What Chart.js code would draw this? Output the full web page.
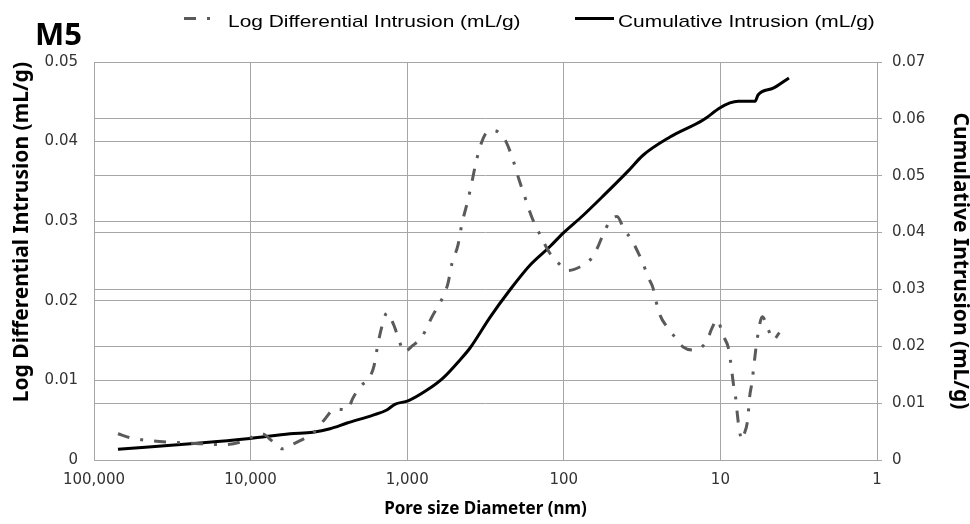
<!DOCTYPE html>
<html>
<head>
  <title>M5 - Pore size distribution</title>
  <script src="https://cdn.jsdelivr.net/npm/chart.js"></script>
  <style>
    body {
      margin: 0;
      background: #ffffff;
    }

    .chart-box {
      width: 970px;
      height: 524px;
      position: relative;
    }
  </style>
</head>
<body>

  <div class="chart-box">
    <canvas id="poreChart"></canvas>
  </div>

  <script>
    // pore diameters (nm) and values
    const diffPore = [70300, 58900, 47900, 36300, 24400, 18200, 15000, 11350, 8460, 7300, 6300, 5360,
      4360, 3880, 3400, 2890, 2420, 2220, 2000, 1750, 1630, 1540, 1450, 1346, 1232, 1145, 1048, 932,
      804, 694, 608, 549, 518, 474, 447, 415, 391, 369, 343, 309, 283, 263, 234, 211, 193, 177, 160,
      142, 123, 109, 94, 76.5, 66.1, 60.5, 56.2, 50.7, 45.7, 41.3, 36.7, 33.6, 31.2, 29.0, 26.9, 25.8,
      24.3, 21.9, 19.8, 17.3, 14.5, 12.2, 11.3, 10.5, 9.6, 8.9, 8.6, 8.4, 8.19, 7.95, 7.8, 7.6, 7.28,
      7.1, 6.7, 6.5, 6.28, 6.1, 5.84, 5.4, 4.97, 4.6, 4.2];
    const diffIntrusion = [0.0033, 0.0028, 0.0025, 0.0023, 0.0021, 0.0020, 0.0019, 0.0023, 0.0033, 0.0024, 0.0014, 0.0020,
      0.0029, 0.0036, 0.0050, 0.0064, 0.0063, 0.0078, 0.0092, 0.0103, 0.0118, 0.0145, 0.0168, 0.0185, 0.0172, 0.0155, 0.0136, 0.0143,
      0.0155, 0.0180, 0.0200, 0.0222, 0.0247, 0.0270, 0.0297, 0.0322, 0.0344, 0.0368, 0.0393, 0.0412, 0.0414, 0.0412, 0.0400, 0.0377, 0.0352, 0.0330, 0.0305,
      0.0283, 0.0260, 0.0248, 0.0238, 0.0244, 0.0254, 0.0268, 0.0283, 0.0300, 0.0306, 0.0290, 0.0276, 0.0261, 0.0247, 0.0230, 0.0216, 0.0200,
      0.0182, 0.0167, 0.0156, 0.0142, 0.0138, 0.0150, 0.0166, 0.0176, 0.0156, 0.0141, 0.0123, 0.0107, 0.0090, 0.0075, 0.0058, 0.0040, 0.0025,
      0.0031, 0.0050, 0.0080, 0.0098, 0.0120, 0.0150, 0.0180, 0.0165, 0.0151, 0.0160];

    const cumPore = [70300, 21000, 10100, 5600, 4000, 3110, 2420, 1650, 1350, 1200, 988, 747, 591, 460, 397,
      296, 221, 164, 123, 101, 75.4, 56.2, 38.9, 31.2, 21.0, 12.9, 10.1, 8.7, 7.7, 6.0, 5.75, 4.6, 3.65];
    const cumIntrusion = [0.0019, 0.0030, 0.0038, 0.0046, 0.0049, 0.0055, 0.0065, 0.0079, 0.0088, 0.0098, 0.0104, 0.0123, 0.0144, 0.0176, 0.0197,
      0.0251, 0.0299, 0.0343, 0.0375, 0.0399, 0.0430, 0.0464, 0.0508, 0.0536, 0.0568, 0.0598, 0.0619, 0.0628, 0.0631, 0.0631, 0.0642, 0.0654, 0.0672];

    const xTicks = [100000, 10000, 1000, 100, 10, 1];
    const leftTicks = [0, 0.01, 0.02, 0.03, 0.04, 0.05];
    const rightTicks = [0, 0.01, 0.02, 0.03, 0.04, 0.05, 0.06, 0.07];

    const gridGrey = '#a6a6a6';
    const tickFont = { family: "'DejaVu Sans', sans-serif", size: 15 };
    const sideTitleFont = { family: "'Noto Sans', sans-serif", size: 21, weight: 'bold', lineHeight: 1 };

    // legend + "M5" label drawn by hand so they sit where the original has them
    // (the original's legend text is a bit wider than plain Arial, hence the x stretch)
    const topLabels = {
      id: 'topLabels',
      afterDraw(chart) {
        const ctx = chart.ctx;
        const ds = chart.data.datasets;
        ctx.save();

        ctx.fillStyle = '#000';
        ctx.font = "bold 31px 'Noto Sans', sans-serif";
        ctx.textBaseline = 'alphabetic';
        ctx.fillText('M5', 35, 45);

        // first item: dash-dot
        ctx.strokeStyle = ds[0].borderColor;
        ctx.lineWidth = ds[0].borderWidth;
        ctx.setLineDash(ds[0].borderDash);
        ctx.beginPath();
        ctx.moveTo(184, 18.5);
        ctx.lineTo(212, 18.5);
        ctx.stroke();

        // second item: solid
        ctx.strokeStyle = ds[1].borderColor;
        ctx.lineWidth = ds[1].borderWidth;
        ctx.setLineDash([]);
        ctx.beginPath();
        ctx.moveTo(575, 18.5);
        ctx.lineTo(614, 18.5);
        ctx.stroke();

        ctx.font = "17px 'Liberation Sans', Arial, sans-serif";
        [[ds[0].label, 228], [ds[1].label, 618]].forEach(([txt, x]) => {
          ctx.save();
          ctx.translate(x, 27);
          ctx.scale(1.23, 1);
          ctx.fillText(txt, 0, 0);
          ctx.restore();
        });

        ctx.restore();
      }
    };

    const ctx = document.getElementById('poreChart').getContext('2d');
    new Chart(ctx, {
      type: 'line',
      data: {
        datasets: [{
          label: 'Log Differential Intrusion (mL/g)',
          data: diffPore.map((p, i) => ({ x: p, y: diffIntrusion[i] })),
          borderColor: '#5a5a5a',
          borderWidth: 3,
          borderDash: [12, 11, 3, 11],
          pointRadius: 0,
          cubicInterpolationMode: 'monotone',
          yAxisID: 'y'
        }, {
          label: 'Cumulative Intrusion (mL/g)',
          data: cumPore.map((p, i) => ({ x: p, y: cumIntrusion[i] })),
          borderColor: '#000000',
          borderWidth: 3,
          pointRadius: 0,
          cubicInterpolationMode: 'monotone',
          yAxisID: 'y1'
        }]
      },
      options: {
        responsive: true,
        maintainAspectRatio: false,
        animation: false,
        layout: { padding: { top: 62, left: 0, right: 0, bottom: 0 } },
        plugins: {
          legend: { display: false },
          tooltip: { enabled: false }
        },
        scales: {
          x: {
            type: 'logarithmic',
            reverse: true,
            min: 1,
            max: 100000,
            afterBuildTicks: s => { s.ticks = xTicks.map(v => ({ value: v })); },
            afterFit: s => { s.height = 64; },
            grid: { color: gridGrey, drawTicks: false },
            border: { color: gridGrey },
            ticks: {
              color: '#333',
              font: tickFont,
              padding: 11,
              maxRotation: 0,
              autoSkip: false,
              callback: v => Number(v).toLocaleString('en-US')
            },
            title: {
              display: true,
              text: 'Pore size Diameter (nm)',
              color: '#000',
              font: { family: "'Noto Sans', sans-serif", size: 17, weight: 'bold' },
              padding: { top: 0, bottom: 5 }
            }
          },
          y: {
            position: 'left',
            min: 0,
            max: 0.05,
            afterBuildTicks: s => { s.ticks = leftTicks.map(v => ({ value: v })); },
            afterFit: s => { s.width = 94; },
            grid: { color: gridGrey, drawTicks: false },
            border: { color: gridGrey },
            ticks: {
              color: '#333',
              font: tickFont,
              padding: 16,
              callback: v => String(Math.round(v * 100) / 100)
            },
            title: {
              display: true,
              text: 'Log Differential Intrusion (mL/g)',
              align: 'end',
              color: '#000',
              font: sideTitleFont,
              padding: { top: 12, bottom: 0 }
            }
          },
          y1: {
            position: 'right',
            min: 0,
            max: 0.07,
            afterBuildTicks: s => { s.ticks = rightTicks.map(v => ({ value: v })); },
            afterFit: s => { s.width = 93; },
            grid: { color: gridGrey, drawTicks: true, tickLength: 5 },
            border: { color: gridGrey },
            ticks: {
              color: '#333',
              font: tickFont,
              padding: 10,
              callback: v => String(Math.round(v * 100) / 100)
            },
            title: {
              display: true,
              text: 'Cumulative Intrusion (mL/g)',
              color: '#000',
              font: sideTitleFont,
              padding: { top: 0, bottom: 0 }
            }
          }
        }
      },
      plugins: [topLabels]
    });
  </script>
</body>
</html>
